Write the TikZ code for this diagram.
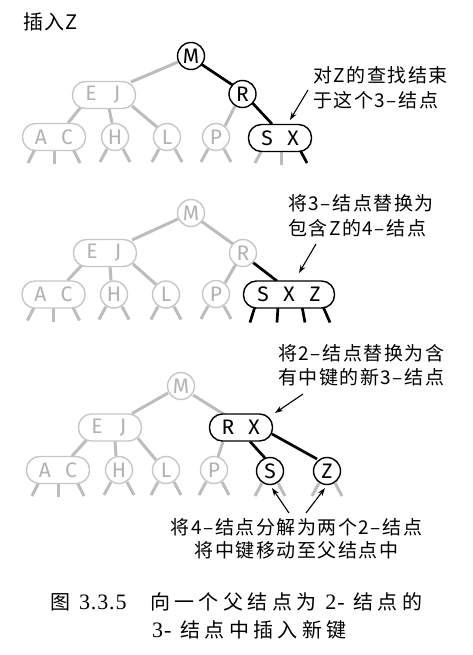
\documentclass[tikz,border=0pt]{standalone}
\usepackage{fontspec}
\usetikzlibrary{arrows.meta,calc}
\newfontfamily\keyf{Fira Sans}
\newfontfamily\labf[LetterSpace=8]{Noto Sans CJK SC}
\newfontfamily\titf[LetterSpace=5]{Noto Sans CJK SC}
\newfontfamily\capf[LetterSpace=22]{Noto Sans CJK SC}
\newfontfamily\capnumf[LetterSpace=4]{Liberation Serif}
\newcommand\capnum{\capnumf\fontsize{22}{26}\selectfont}
\newcommand\kbox[1]{\makebox[26pt]{#1}}
\pgfdeclarelayer{bg}
\pgfsetlayers{bg,main}
\begin{document}
\begin{tikzpicture}[x=1pt,y=-1pt,
  gn/.style={circle, draw=black!22, line width=1.4pt, fill=white, text=black!30,
    minimum size=27pt, inner sep=0pt, font=\keyf\fontsize{21}{24}\selectfont},
  bn/.style={gn, draw=black, text=black},
  gr/.style={rectangle, rounded corners=13pt, draw=black!22, line width=1.4pt, fill=white, text=black!30,
    minimum width=63pt, minimum height=27pt, inner sep=0pt, font=\keyf\fontsize{21}{24}\selectfont},
  br/.style={gr, draw=black, text=black},
  ge/.style={draw=black!26, line width=3pt},
  be/.style={draw=black, line width=2.7pt},
  lab/.style={font=\labf\fontsize{19}{25}\selectfont, inner sep=0pt},
  captxt/.style={font=\capf\fontsize{20}{26}\selectfont, inner sep=0pt},
  arr/.style={-{Stealth[length=8pt,width=5.5pt]}, line width=1.1pt}]
\useasboundingbox (0,0) rectangle (473,655);

% title
\node[font=\titf\fontsize{20}{22}\selectfont, inner sep=0pt, anchor=west] (title) at (23,21.5) {插入Z};

% ---------- panel 1
\node[bn] (M1) at (191,56) {M};
\node[bn] (R1) at (242.5,94) {R};
\node[gr] (EJ1) at (104,95) {\kbox{E}\kbox{J}};
\node[gr] (AC1) at (54,137) {\kbox{A}\kbox{C}};
\node[gn] (H1) at (115,137) {H};
\node[gn] (L1) at (167,137) {L};
\node[gn] (P1) at (216,137) {P};
\node[br] (SX1) at (280,138) {\kbox{S}\kbox{X}};

\node[lab, anchor=west] (t1a) at (313,75) {对Z的查找结束};
\node[lab, anchor=west] (t1b) at (313,100) {于这个3–结点};
\coordinate (a1) at (308,90);
\draw[arr] (a1) -- ($(SX1)+(10,-18)$);

% ---------- panel 2
\node[gn] (M2) at (191,213) {M};
\node[gn] (R2) at (243,253) {R};
\node[gr] (EJ2) at (105,253) {\kbox{E}\kbox{J}};
\node[gr] (AC2) at (53.5,294.5) {\kbox{A}\kbox{C}};
\node[gn] (H2) at (114,294.5) {H};
\node[gn] (L2) at (166,294.5) {L};
\node[gn] (P2) at (216,294) {P};
\node[br, minimum width=91pt] (SXZ2) at (289,294.5) {\kbox{S}\kbox{X}\kbox{Z}};

\node[lab, anchor=west] (t2a) at (288,203) {将3–结点替换为};
\node[lab, anchor=west] (t2b) at (288,228) {包含Z的4–结点};
\coordinate (a2) at (316,244);
\draw[arr] (a2) -- ($(SXZ2)+(10,-21.5)$);

% ---------- panel 3
\node[gn] (M3) at (181,386) {M};
\node[gr] (EJ3) at (110,427.5) {\kbox{E}\kbox{J}};
\node[br] (RX3) at (241,427.5) {\kbox{R}\kbox{X}};
\node[gr] (AC3) at (58,470) {\kbox{A}\kbox{C}};
\node[gn] (H3) at (119,470) {H};
\node[gn] (L3) at (166,470) {L};
\node[gn] (P3) at (214,470) {P};
\node[bn] (S3) at (270,471) {S};
\node[bn] (Z3) at (327,471) {Z};

\node[lab, anchor=west] (t3a) at (278,353) {将2–结点替换为含};
\node[lab, anchor=west] (t3b) at (278,377) {有中键的新3–结点};
\coordinate (a3) at (303,394);
\draw[arr] (a3) -- ($(RX3)+(34,-14.5)$);

\node[lab] (t4a) at (296.5,527) {将4–结点分解为两个2–结点};
\node[lab] (t4b) at (296.5,550) {将中键移动至父结点中};
\coordinate (a4) at (289,513);
\coordinate (a5) at (306,513);
\draw[arr] (a4) -- ($(S3)+(2,17)$);
\draw[arr] (a5) -- ($(Z3)+(-2,17)$);

% caption
\node[captxt, anchor=west] (c0) at (50,602) {图 {\capnum 3.3.5}};
\node[captxt, anchor=west] (c1) at (150,602) {向一个父结点为 {\capnum 2-} 结点的};
\node[captxt, anchor=west] (c2) at (152,630) {{\capnum 3-} 结点中插入新键};

% ---------- connectors (behind the nodes)
\begin{pgfonlayer}{bg}
\fill[white] (0,0) rectangle (473,655);
% panel 1
\draw[ge] ($(M1)+(-13,6)$) -- ($(EJ1)+(27,-13)$);
\draw[be] ($(M1)+(10,8)$) -- ($(R1)+(-10,-9)$);
\draw[ge] ($(R1)+(-7,11)$) -- ($(P1)+(9,-11)$);
\draw[be] ($(R1)+(10,9)$) -- ($(SX1)+(-8,-14)$);
% panel 2
\draw[ge] ($(M2)+(-13,6)$) -- ($(EJ2)+(27,-13)$);
\draw[ge] ($(M2)+(10,8)$) -- ($(R2)+(-10,-9)$);
\draw[ge] ($(R2)+(-7,11)$) -- ($(P2)+(9,-11)$);
\draw[be] ($(R2)+(10,9.5)$) -- ($(SXZ2)+(-12,-13.5)$);
% panel 3
\draw[ge] ($(M3)+(-13,7)$) -- ($(EJ3)+(22,-14)$);
\draw[ge] ($(M3)+(12,9)$) -- ($(RX3)+(-16,-12.5)$);
\draw[ge] ($(RX3)+(-18,14)$) -- ($(P3)+(4,-13)$);
\draw[be] ($(RX3)+(9,14)$) -- ($(S3)+(-5,-13)$);
\draw[be] ($(RX3)+(31,6.5)$) -- ($(Z3)+(-10,-12)$);
% E J children
\foreach \p/\a/\h/\l in {EJ1/AC1/H1/L1, EJ2/AC2/H2/L2, EJ3/AC3/H3/L3}{
  \draw[ge] ($(\p)+(-23,12)$) -- ($(\a)+(14,-14)$);
  \draw[ge] ($(\p)+(5,13)$) -- ($(\h)+(-3,-14)$);
  \draw[ge] ($(\p)+(28,11)$) -- ($(\l)+(-10,-10)$);
}
% stubs of 2-nodes
\foreach \n in {H1,L1,P1,H2,L2,P2,H3,L3,P3,S3,Z3}{
  \draw[ge] ($(\n)+(-8,12)$) -- ($(\n)+(-15,25)$);
  \draw[ge] ($(\n)+(8,12)$) -- ($(\n)+(15,25)$);
}
% stubs of A C
\foreach \n in {AC1,AC2,AC3}{
  \draw[ge] ($(\n)+(-19,12)$) -- ($(\n)+(-26,26)$);
  \draw[ge] ($(\n)+(0,12)$) -- ($(\n)+(0,27)$);
  \draw[ge] ($(\n)+(19,12)$) -- ($(\n)+(26,26)$);
}
% stubs of S X
\draw[ge] ($(SX1)+(-18,12)$) -- ($(SX1)+(-25,25)$);
\draw[ge] ($(SX1)+(1,12)$) -- ($(SX1)+(1,27)$);
\draw[be] ($(SX1)+(20,12)$) -- ($(SX1)+(27,25)$);
% stubs of S X Z
\draw[be] ($(SXZ2)+(-34,12)$) -- ($(SXZ2)+(-39,28)$);
\draw[be] ($(SXZ2)+(-11,12)$) -- ($(SXZ2)+(-12,28)$);
\draw[be] ($(SXZ2)+(13,12)$) -- ($(SXZ2)+(16,28)$);
\draw[be] ($(SXZ2)+(34,12)$) -- ($(SXZ2)+(41,28)$);
\end{pgfonlayer}
\end{tikzpicture}
\end{document}
